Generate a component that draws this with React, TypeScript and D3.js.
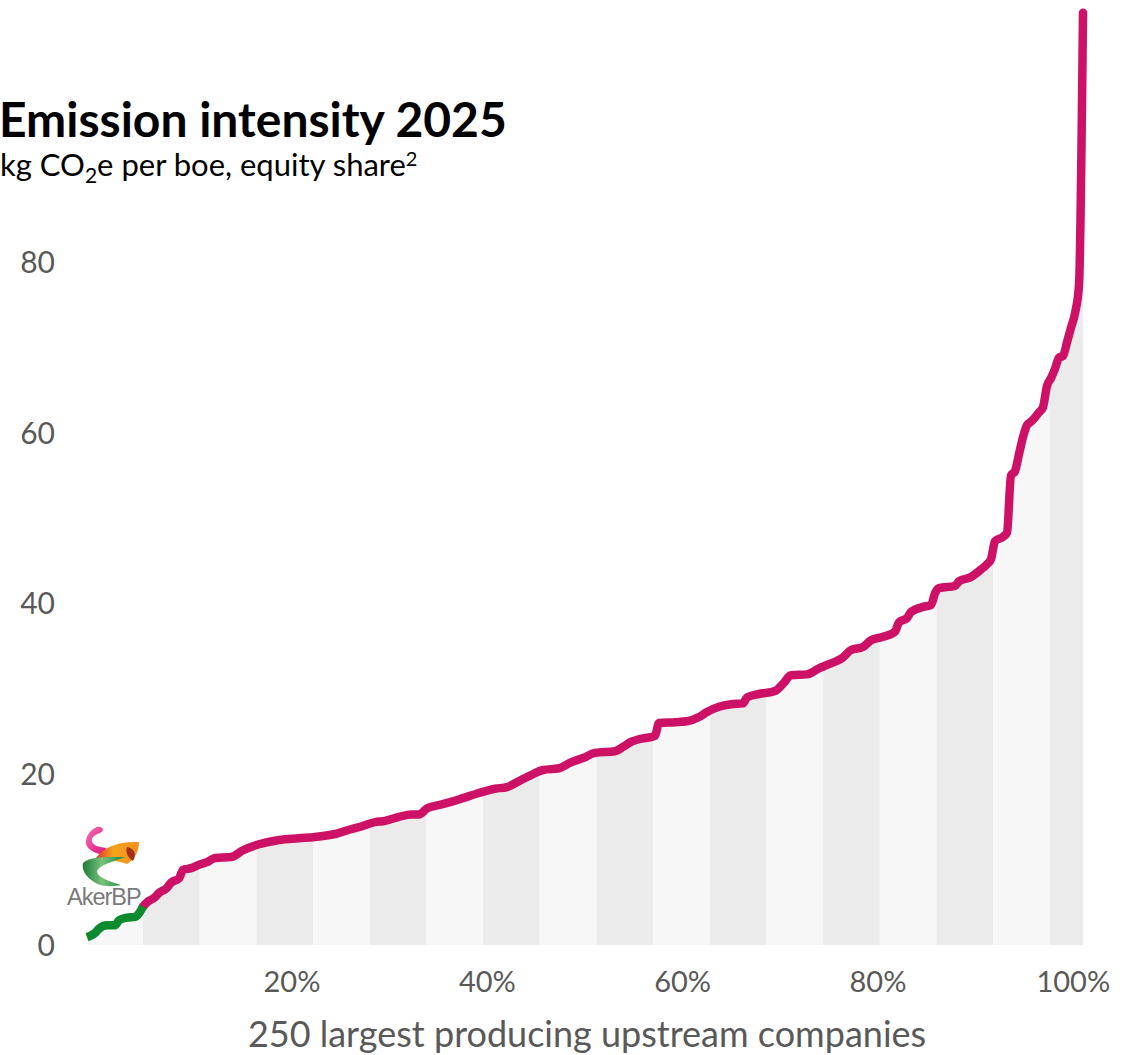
import React from "react";
import * as d3 from "d3";

// ---- data ----
const ranks = [
  1, 3, 4, 6, 8, 9, 11, 13, 14, 15,
  16, 18, 19, 21, 22, 24, 25, 27, 29, 31,
  33, 37, 40, 44, 49, 54, 58, 63, 68, 69,
  73, 75, 79, 82, 84, 86, 89, 93, 95, 99,
  103, 106, 109, 112, 115, 119, 122, 125, 128, 133,
  135, 137, 139, 143, 144, 148, 151, 154, 156, 159,
  162, 165, 166, 169, 173, 175, 177, 181, 184, 186,
  190, 192, 195, 197, 200, 203, 204, 206, 207, 210,
  212, 213, 214, 218, 219, 222, 224, 226, 227, 228,
  230, 231, 232, 233, 234, 235, 236, 237, 238, 239,
  240, 241, 242, 243, 244, 245, 246, 247, 248, 249,
  250,
];
const intensity = [
  0.9, 1.4, 1.9, 2.3, 2.3, 2.9, 3.2, 3.3, 3.7, 4.5,
  5.0, 5.6, 6.1, 6.7, 7.3, 7.8, 8.8, 9.0, 9.4, 9.7,
  10.2, 10.3, 11.1, 11.8, 12.3, 12.5, 12.65, 13.0, 13.7, 13.8,
  14.4, 14.5, 15.0, 15.3, 15.3, 16.0, 16.4, 16.9, 17.2, 17.8,
  18.3, 18.5, 19.2, 19.9, 20.5, 20.7, 21.4, 21.9, 22.5, 22.7,
  23.2, 23.8, 24.1, 24.5, 26.0, 26.1, 26.2, 26.7, 27.3, 27.9,
  28.2, 28.3, 29.0, 29.4, 29.75, 30.6, 31.6, 31.7, 32.4, 32.8,
  33.7, 34.55, 34.9, 35.7, 36.1, 36.7, 37.8, 38.3, 39.0, 39.6,
  39.8, 41.2, 41.8, 42.05, 42.6, 43.1, 43.8, 44.6, 45.2, 47.3,
  47.8, 48.3, 55.0, 55.5, 57.5, 59.5, 60.9, 61.3, 61.8, 62.4,
  63.0, 65.5, 66.4, 67.5, 68.8, 69.0, 70.6, 72.3, 74.0, 77.3,
  109.2,
];
const companyCount = 250;
const akerBpLastRank = 15;
const yTicks = [0, 20, 40, 60, 80];
const xTickShares = [0.2, 0.4, 0.6, 0.8, 1.0];
const xTickLabels = ["20%", "40%", "60%", "80%", "100%"];
const bandWidthCompanies = 14.17;
const bandStartRank = 0.83;

const TITLE = "Emission intensity 2025";
const X_TITLE = "250 largest producing upstream companies";

const PINK = "#cc1166";
const GREEN = "#0b8a2e";
const FONT = "Lato, 'Noto Sans', sans-serif";

export default function App() {
  const W = 1124;
  const H = 1055;
  const x = d3.scaleLinear().domain([1, companyCount]).range([87, 1083]);
  const y = d3.scaleLinear().domain([0, 80]).range([945, 262]);
  // tick-label placement scale (labels sit slightly inside the data range)
  const xLabel = d3.scaleLinear().domain([0.2, 0.8]).range([292, 878]);

  const pts = ranks.map((r, i) => ({ r, v: intensity[i] }));
  const greenPts = pts.filter((p) => p.r <= akerBpLastRank);
  const pinkPts = pts.filter((p) => p.r >= akerBpLastRank);

  const line = d3
    .line<{ r: number; v: number }>()
    .x((d) => x(d.r))
    .y((d) => y(d.v))
    .curve(d3.curveMonotoneX);
  const area = d3
    .area<{ r: number; v: number }>()
    .x((d) => x(d.r))
    .y0(y(0))
    .y1((d) => y(d.v))
    .curve(d3.curveMonotoneX);

  const bands: { x0: number; x1: number; dark: boolean }[] = [];
  for (let i = 0; bandStartRank + i * bandWidthCompanies < companyCount; i++) {
    const r0 = bandStartRank + i * bandWidthCompanies;
    const r1 = Math.min(companyCount, r0 + bandWidthCompanies);
    bands.push({ x0: x(Math.max(1, r0)), x1: x(r1), dark: i % 2 === 1 });
  }

  const labelX = (s: number) => Math.min(xLabel(s), x(companyCount) - 1);

  return (
    <div style={{ position: "absolute", left: 0, top: 0 }}>
      <svg width={W} height={H} style={{ display: "block", background: "#fff" }}>
        <defs>
          <clipPath id="under">
            <path d={area(pts) || ""} />
          </clipPath>
          <linearGradient id="pinkG" x1="0" x2="1" y1="0" y2="1">
            <stop offset="0" stopColor="#f472b0" />
            <stop offset="1" stopColor="#e0107c" />
          </linearGradient>
          <linearGradient id="orangeG" x1="0" x2="1" y1="0" y2="0">
            <stop offset="0" stopColor="#d9332a" />
            <stop offset="0.4" stopColor="#f5a31a" />
            <stop offset="1" stopColor="#f2901e" />
          </linearGradient>
          <linearGradient id="greenG" x1="0" x2="1" y1="0" y2="0">
            <stop offset="0" stopColor="#1b7a36" />
            <stop offset="0.45" stopColor="#79c27c" />
            <stop offset="1" stopColor="#13883a" />
          </linearGradient>
        </defs>

        {/* striped area under the curve */}
        <g clipPath="url(#under)">
          {bands.map((b, i) => (
            <rect
              key={i}
              x={b.x0}
              y={0}
              width={b.x1 - b.x0}
              height={y(0)}
              fill={b.dark ? "#ebebeb" : "#f7f7f7"}
            />
          ))}
        </g>

        {/* lines */}
        <path
          d={line(pinkPts) || ""}
          fill="none"
          stroke={PINK}
          strokeWidth={8.5}
          strokeLinejoin="round"
          strokeLinecap="round"
        />
        <path
          d={line(greenPts) || ""}
          fill="none"
          stroke={GREEN}
          strokeWidth={8.5}
          strokeLinejoin="round"
          strokeLinecap="butt"
        />

        {/* Aker BP logo */}
        <g>
          <path
            d="M97,827 C103,826 105,831 100,833 C94,835 91,838 92,842 C94,846 100,847 106,848 L105,855 C97,854 88,851 86,844 C85,836 91,829 97,827 Z"
            fill="url(#pinkG)"
          />
          <path
            d="M96,858 C104,847 118,841 139,842 C139,851 135,859 127,864 C119,861 108,860 96,860 Z"
            fill="url(#orangeG)"
          />
          <path d="M127,847 C134,848 137,854 133,861 C128,858 125,852 127,847 Z" fill="#a62e1a" />
          <path
            d="M125,857 C108,857 90,856 83,863 C81,871 88,880 100,885 C108,887 116,886 121,885 C108,881 97,877 97,871 C101,864 113,862 125,857 Z"
            fill="url(#greenG)"
          />
          <text
            x={67}
            y={905}
            fontFamily="'Liberation Sans', Arial, sans-serif"
            fontSize={23.5}
            fill="#7a7a7a"
            letterSpacing={-1}
          >
            AkerBP
          </text>
        </g>

        {/* y axis labels */}
        {yTicks.map((t) => (
          <text
            key={t}
            x={55}
            y={y(t)}
            dy="0.36em"
            textAnchor="end"
            fontFamily={FONT}
            fontSize={30}
            fill="#595959"
          >
            {t}
          </text>
        ))}

        {/* x axis labels */}
        {xTickShares.map((s, i) => (
          <text
            key={s}
            x={labelX(s)}
            y={992}
            textAnchor="middle"
            fontFamily={FONT}
            fontSize={29}
            fill="#595959"
          >
            {xTickLabels[i]}
          </text>
        ))}
        <text
          x={587}
          y={1047}
          textAnchor="middle"
          fontFamily={FONT}
          fontSize={36}
          fill="#595959"
        >
          {X_TITLE}
        </text>

        {/* titles */}
        <text x={-1} y={137} fontFamily={FONT} fontSize={48} fontWeight={700} fill="#000">
          {TITLE}
        </text>
        <text x={0} y={176} fontFamily={FONT} fontSize={31} fill="#000">
          kg CO
          <tspan fontSize={21} dy={7}>2</tspan>
          <tspan dy={-7}>e per boe, equity share</tspan>
          <tspan fontSize={20} dy={-10}>2</tspan>
        </text>
      </svg>
    </div>
  );
}
